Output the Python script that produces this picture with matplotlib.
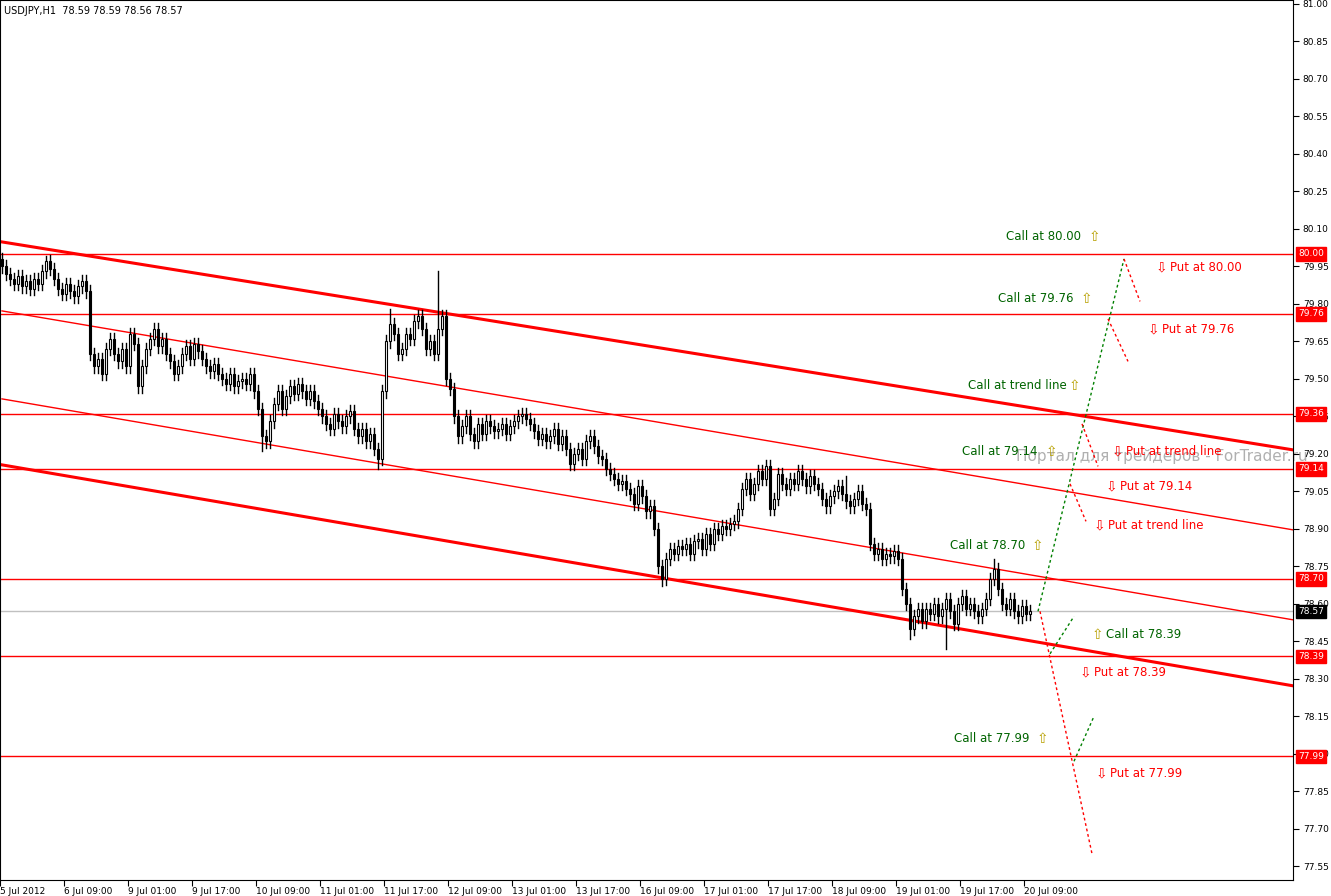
import matplotlib
matplotlib.use("Agg")
import matplotlib.pyplot as plt
from matplotlib.patches import Rectangle

title = "USDJPY,H1  78.59 78.59 78.56 78.57"
closes = [
79.95,79.92,79.90,79.88,79.91,79.87,79.89,79.86,79.90,79.88,
79.93,79.97,79.94,79.90,79.86,79.84,79.88,79.85,79.83,79.87,
79.89,79.85,79.60,79.55,79.58,79.52,79.62,79.66,79.60,79.57,
79.62,79.55,79.68,79.64,79.47,79.55,79.62,79.66,79.70,79.63,
79.66,79.60,79.57,79.52,79.55,79.60,79.63,79.58,79.64,79.61,
79.58,79.55,79.53,79.56,79.52,79.50,79.48,79.52,79.47,79.49,
79.50,79.48,79.52,79.45,79.38,79.27,79.25,79.33,79.40,79.45,
79.38,79.43,79.47,79.44,79.48,79.45,79.42,79.45,79.41,79.38,
79.35,79.32,79.30,79.36,79.33,79.31,79.35,79.37,79.30,79.27,
79.30,79.25,79.28,79.22,79.18,79.45,79.65,79.72,79.68,79.60,
79.62,79.68,79.66,79.73,79.75,79.70,79.62,79.65,79.60,79.70,
79.75,79.50,79.46,79.35,79.27,79.31,79.35,79.28,79.25,79.32,
79.28,79.33,79.31,79.29,79.30,79.32,79.28,79.31,79.33,79.35,
79.36,79.34,79.32,79.29,79.26,79.28,79.25,79.27,79.30,79.24,
79.27,79.22,79.16,79.20,79.22,79.18,79.25,79.27,79.23,79.19,
79.18,79.14,79.12,79.10,79.08,79.09,79.06,79.04,79.00,79.07,
79.03,78.97,78.99,78.90,78.75,78.70,78.78,78.82,78.80,78.83,
78.82,78.84,78.80,78.85,78.86,78.82,78.88,78.84,78.90,78.88,
78.91,78.90,78.92,78.93,78.98,79.06,79.10,79.04,79.08,79.13,
79.10,79.15,78.98,79.02,79.12,79.08,79.06,79.10,79.08,79.13,
79.10,79.07,79.11,79.08,79.06,79.02,78.99,79.03,79.05,79.07,
79.04,79.01,78.99,79.02,79.05,79.00,78.98,78.84,78.80,78.82,
78.78,78.80,78.79,78.81,78.78,78.66,78.60,78.50,78.55,78.58,
78.53,78.58,78.56,78.60,78.55,78.58,78.62,78.57,78.52,78.60,
78.63,78.58,78.60,78.57,78.55,78.58,78.62,78.70,78.74,78.66,
78.60,78.58,78.62,78.57,78.55,78.59,78.56,78.57]
first_open = 79.98
wick = 0.025
spike_high = {109: 79.93, 11: 79.99, 97: 79.78, 248: 78.78, 211: 79.11}
spike_low = {236: 78.42, 227: 78.46, 94: 79.14, 65: 79.21, 165: 78.67}

levels = [80.00, 79.76, 79.36, 79.14, 78.70, 78.39, 77.99]
current = 78.57
yticks = [81.00,80.85,80.70,80.55,80.40,80.25,80.10,79.95,79.80,79.65,79.50,79.35,79.20,79.05,78.90,78.75,78.60,78.45,78.30,78.15,78.00,77.85,77.70,77.55]
xlabels = ["5 Jul 2012","6 Jul 09:00","9 Jul 01:00","9 Jul 17:00","10 Jul 09:00","11 Jul 01:00","11 Jul 17:00","12 Jul 09:00","13 Jul 01:00","13 Jul 17:00","16 Jul 09:00","17 Jul 01:00","17 Jul 17:00","18 Jul 09:00","19 Jul 01:00","19 Jul 17:00","20 Jul 09:00"]
thick_lines = [(0, 80.048, 322.75, 79.216), (0, 79.156, 322.75, 78.272)]
thin_lines = [(0, 79.772, 322.75, 78.896), (0, 79.42, 322.75, 78.536)]
green_proj = [[(259, 78.57), (280.5, 79.98)], [(262, 78.40), (268, 78.55)], [(268, 77.97), (273, 78.15)]]
red_proj = [[(280.5, 79.98), (284.5, 79.81)], [(276.5, 79.74), (281.5, 79.57)], [(270, 79.32), (274, 79.15)],
            [(267, 79.08), (271, 78.93)], [(259.5, 78.57), (272.5, 77.60)]]
call_text = ["Call at 80.00", "Call at 79.76", "Call at trend line", "Call at 79.14", "Call at 78.70", "Call at 78.39", "Call at 77.99"]
call_x = [251, 249, 241.5, 240, 237, 276, 238]
call_arrow_x = [271.7, 269.7, 266.7, 261, 257.5, 272.5, 258.7]
call_y = [80.068, 79.82, 79.472, 79.208, 78.832, 78.476, 78.06]
put_text = ["Put at 80.00", "Put at 79.76", "Put at trend line", "Put at 79.14", "Put at trend line", "Put at 78.39", "Put at 77.99"]
put_x = [288.5, 286.5, 277.5, 276, 273, 269.5, 273.5]
put_y = [79.944, 79.696, 79.208, 79.068, 78.912, 78.324, 77.92]

fig = plt.figure(figsize=(13.31, 8.96), dpi=100)
ax = fig.add_axes([0, 16/896, 1293/1331, 880/896])
ax.set_xlim(-0.5, 322.75)
ax.set_ylim(77.495, 81.016)

for s, p0, e, p1 in thick_lines:
    ax.plot([s, e], [p0, p1], color="#ff0000", lw=2.2, zorder=2)
for s, p0, e, p1 in thin_lines:
    ax.plot([s, e], [p0, p1], color="#ff0000", lw=1, zorder=2)
for lv in levels:
    ax.axhline(lv, color="#ff0000", lw=1, zorder=2)
ax.axhline(current, color="#c0c0c0", lw=1, zorder=1)

prev = first_open
for i, c in enumerate(closes):
    o = prev
    hi = spike_high.get(i, max(o, c) + wick)
    lo = spike_low.get(i, min(o, c) - wick)
    ax.plot([i, i], [lo, hi], color="black", lw=1, zorder=3)
    bot, top = min(o, c), max(o, c)
    ax.add_patch(Rectangle((i - 0.35, bot), 0.7, max(top - bot, 0.004),
                           facecolor="white" if c >= o else "black", edgecolor="black", lw=0.8, zorder=4))
    prev = c

for seg in green_proj:
    ax.plot([seg[0][0], seg[1][0]], [seg[0][1], seg[1][1]], color="#008000", lw=1, ls=(0, (2, 2)), zorder=3)
for seg in red_proj:
    ax.plot([seg[0][0], seg[1][0]], [seg[0][1], seg[1][1]], color="#ff0000", lw=1, ls=(0, (2, 2)), zorder=3)

ax.text(253.5, 79.19, "Портал для трейдеров - ForTrader.ru", color="#b0b0b0", fontsize=11, ha="left", va="center", zorder=1)

for t, x, ax_, y in zip(call_text, call_x, call_arrow_x, call_y):
    ax.text(x, y, t, color="#006400", fontsize=8.5, ha="left", va="center", zorder=5)
    ax.text(ax_, y, "\u21e7", color="#b8a000", fontsize=10, ha="left", va="center", zorder=5)
for t, x, y in zip(put_text, put_x, put_y):
    ax.text(x, y, "\u21e9", color="#ff0000", fontsize=10, ha="left", va="center", zorder=5)
    ax.text(x + 3.6, y, t, color="#ff0000", fontsize=8.5, ha="left", va="center", zorder=5)

ax.text(0.5, 80.97, title, fontsize=7, ha="left", va="center", color="black")

ax.yaxis.tick_right()
ax.set_yticks(yticks)
ax.set_yticklabels([f"{v:.2f}" for v in yticks], fontsize=6.5)
ax.tick_params(axis="y", length=4, pad=3)
for lv in levels:
    ax.text(1.004, (lv - 77.495) / (81.016 - 77.495), f"{lv:.2f}", transform=ax.transAxes, fontsize=6.5,
            color="white", ha="left", va="center", zorder=6,
            bbox=dict(boxstyle="square,pad=0.25", fc="#ff0000", ec="#ff0000"))
ax.text(1.004, (current - 77.495) / (81.016 - 77.495), f"{current:.2f}", transform=ax.transAxes, fontsize=6.5,
        color="white", ha="left", va="center", zorder=6,
        bbox=dict(boxstyle="square,pad=0.25", fc="black", ec="black"))

xt = [16 * k for k in range(len(xlabels))]
ax.set_xticks([t - 0.5 for t in xt])
ax.set_xticklabels(xlabels, fontsize=6.5, ha="left")
ax.tick_params(axis="x", length=4, pad=1)
for sp in ax.spines.values():
    sp.set_color("black")
    sp.set_linewidth(0.8)

fig.savefig("out.png", dpi=100, facecolor="white")
